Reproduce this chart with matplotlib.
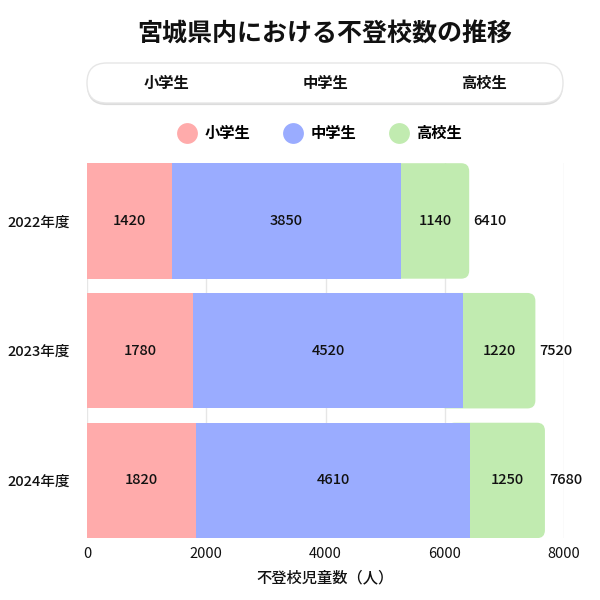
import numpy as np
import matplotlib as mpl
mpl.use('agg')
import matplotlib.pyplot as plt
from matplotlib.patches import FancyBboxPatch
from matplotlib.lines import Line2D

plt.rcParams['font.family'] = ['Noto Sans CJK JP', 'DejaVu Sans']
plt.rcParams['axes.unicode_minus'] = False

############################################################
# data
############################################################
years    = ['2022年度', '2023年度', '2024年度']
series   = ['小学生', '中学生', '高校生']
elem     = [1420, 1780, 1820]
middle   = [3850, 4520, 4610]
high     = [1140, 1220, 1250]
totals   = [6410, 7520, 7680]
colors   = ['#ffabab', '#9aacff', '#c1ebb0']
title    = '宮城県内における不登校数の推移'
xlabel   = '不登校児童数（人）'
xticks   = [0, 2000, 4000, 6000, 8000]

############################################################
fig = plt.figure(figsize=(6.0, 6.0), dpi=100)
ax  = fig.add_axes([0.145, 0.103, 0.795, 0.625])

y = np.arange(len(years))
h = 0.89
vals = [elem, middle, high]
left = np.zeros(len(years))

# px -> data conversions for rounded end
xpd = 8000 / 477.0
ypd = 1.0 / 130.0
rad = 8 * xpd

for k, v in enumerate(vals):
    v = np.array(v, dtype=float)
    if k == len(vals) - 1:
        # rounded last segment, drawn under the previous one
        for i in range(len(years)):
            st = left[i] - 400
            p = FancyBboxPatch((st, y[i] - h / 2), left[i] + v[i] - st, h,
                               boxstyle='round,pad=0,rounding_size=%f' % rad,
                               mutation_aspect=ypd / xpd,
                               fc=colors[k], ec='none', zorder=2)
            ax.add_patch(p)
    else:
        ax.barh(y, v, left=left, height=h, color=colors[k], zorder=3)
    for i in range(len(years)):
        ax.text(left[i] + v[i] / 2, y[i], '%d' % v[i], ha='center', va='center',
                fontsize=10.5, fontweight='medium', color='#111111', zorder=5)
    left = left + v

for i in range(len(years)):
    ax.text(totals[i] + 70, y[i], '%d' % totals[i], ha='left', va='center',
            fontsize=10.5, fontweight='medium', color='#111111', zorder=5)

ax.set_xlim(0, 8000)
ax.set_ylim(2.445, -0.445)
ax.set_xticks(xticks)
ax.set_yticks(y)
ax.set_yticklabels(years, fontweight='medium')
ax.tick_params(axis='both', length=0, labelsize=10.5, colors='#111111')
ax.tick_params(axis='y', pad=12)
ax.tick_params(axis='x', pad=6)
for s in ax.spines.values():
    s.set_visible(False)
ax.grid(axis='x', color='#e6e6e6', lw=1.0, zorder=0)
ax.set_axisbelow(True)
ax.set_xlabel(xlabel, fontsize=11, labelpad=6, color='#111111', fontweight='medium')

########################################
# title
fig.text(0.542, 0.943, title, ha='center', va='center', fontsize=18,
         fontweight='bold', color='#111111')

# tab box
bx, by, bw, bh = 87 / 600, 1 - 103 / 600, 476 / 600, 40 / 600
shadow = FancyBboxPatch((bx, by - 0.0035), bw, bh,
                        boxstyle='round,pad=0,rounding_size=0.033',
                        transform=fig.transFigure, fc='#dcdcdc', ec='none')
box = FancyBboxPatch((bx, by), bw, bh,
                     boxstyle='round,pad=0,rounding_size=0.033',
                     transform=fig.transFigure, fc='white', ec='#e6e6e6', lw=1)
fig.patches.extend([shadow, box])
for i, s in enumerate(series):
    fig.text(bx + bw * (i + 0.5) / 3, by + bh / 2, s, ha='center', va='center',
             fontsize=11, fontweight='bold', color='#111111')

# legend
handles = [Line2D([], [], ls='none', marker='o', markersize=15,
                  markerfacecolor=c, markeredgecolor='none') for c in colors]
leg = fig.legend(handles, series, loc='center', bbox_to_anchor=(0.533, 1 - 133 / 600),
                 ncol=3, frameon=False, handletextpad=0.55, columnspacing=2.2,
                 handlelength=1.2, prop={'size': 11, 'weight': 'bold'})

plt.savefig('out.png')
